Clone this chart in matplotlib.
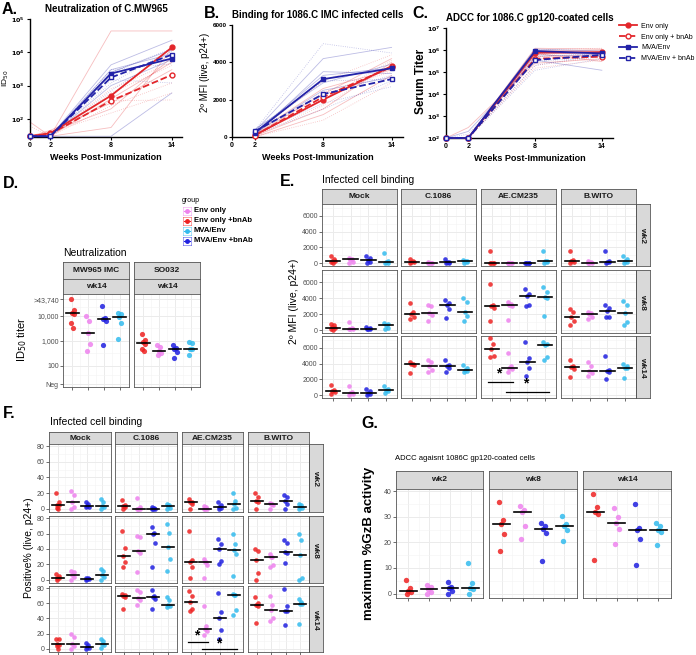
import numpy as np
import matplotlib
matplotlib.use('Agg')
import matplotlib.pyplot as plt
from matplotlib.lines import Line2D
from matplotlib.ticker import NullLocator, NullFormatter

plt.rcParams['font.family'] = ['Liberation Sans', 'DejaVu Sans']

W, H = 696, 655

# ---------------- data: panels A-C (weeks 0, 2, 8, 14) ----------------
weeks = [0, 2, 8, 14]
weeks_b = [2, 8, 14]

a_env = [30, 37, 500, 14000]
a_env_bnab = [30, 35, 350, 2100]
a_mva = [30, 30, 2300, 6500]
a_mva_bnab = [30, 30, 1750, 8500]
a_ind_env = [[30, 30, 43740, 43740], [30, 40, 200, 7000], [30, 30, 55, 13000],
             [80, 30, 400, 5000], [30, 45, 300, 3000]]
a_ind_env_bnab = [[30, 35, 350, 370], [30, 30, 250, 1200], [60, 30, 600, 4000],
                  [30, 40, 150, 600], [30, 30, 800, 5000]]
a_ind_mva = [[30, 30, 4200, 23000], [30, 30, 3000, 9000], [30, 30, 1000, 6000],
             [30, 30, 30, 600], [30, 30, 2500, 12000]]
a_ind_mva_bnab = [[30, 30, 2500, 13000], [30, 30, 1500, 1200], [30, 30, 700, 11000],
                  [30, 30, 1200, 12000], [30, 30, 3000, 4500]]

b_env = [100, 2000, 3800]
b_env_bnab = [80, 2150, 3750]
b_mva = [230, 3100, 3680]
b_mva_bnab = [300, 2300, 3100]
b_ind_env = [[100, 2000, 3800], [50, 1500, 4000], [200, 2600, 3600], [0, 1200, 3300], [150, 2300, 4200]]
b_ind_env_bnab = [[80, 2400, 3500], [20, 900, 2900], [150, 2000, 4100], [50, 1700, 3800], [200, 3000, 4400]]
b_ind_mva = [[300, 4200, 4800], [100, 3500, 3400], [400, 2900, 3900], [200, 2500, 3200], [250, 3300, 3700]]
b_ind_mva_bnab = [[350, 5000, 4500], [200, 1800, 2700], [300, 2300, 3300], [150, 1500, 3000], [400, 3000, 3100]]

c_env = [100, 100, 7.5e5, 8e5]
c_env_bnab = [100, 100, 4e5, 5e5]
c_mva = [100, 100, 9e5, 7e5]
c_mva_bnab = [100, 100, 3.5e5, 6e5]
c_ind_env = [[100, 100, 1.2e6, 1.1e6], [100, 100, 7e5, 3e5], [100, 300, 2.5e5, 4e5],
             [100, 100, 9e5, 1e6], [100, 100, 5e5, 6e5]]
c_ind_env_bnab = [[100, 100, 1e6, 1.2e6], [100, 100, 1.5e5, 3.5e5], [100, 100, 4e5, 6e5],
                  [100, 100, 2e5, 5e5], [100, 100, 6e5, 8e5]]
c_ind_mva = [[100, 100, 1.1e6, 9e5], [100, 200, 3.5e5, 1.2e5], [100, 100, 8e5, 6e5],
             [100, 100, 9e5, 7e5], [100, 100, 6e5, 5e5]]
c_ind_mva_bnab = [[100, 150, 3e5, 5e5], [100, 100, 1.2e5, 4e5], [100, 100, 5e5, 7e5],
                  [100, 100, 2e5, 6e5], [100, 100, 7e5, 8e5]]

line_labels = ['Env only', 'Env only + bnAb', 'MVA/Env', 'MVA/Env + bnAb']

# ---------------- data: panels D-G (groups in x order: red, violet, blue, cyan) ----------------
legend_groups = ['Env only', 'Env only +bnAb', 'MVA/Env', 'MVA/Env +bnAb']
antigens = ['Mock', 'C.1086', 'AE.CM235', 'B.WITO']
wk_rows = ['wk2', 'wk8', 'wk14']

d_mw965 = [[43740, 17000, 13000, 12000, 5000, 3200], [9500, 6000, 2000, 700, 400],
           [24500, 7800, 7000, 6300, 660], [13000, 12000, 8500, 5200, 1200]]
d_so032 = [[1900, 1100, 850, 700, 470, 400], [650, 550, 400, 320, 260],
           [640, 520, 470, 340, 210], [900, 800, 480, 470, 260]]

e_wk2 = [
    [[900, 600, 350, 300, 100, 0], [700, 550, 500, 100, 50], [950, 700, 400, 150, 0], [1300, 300, 150, 50, 0]],
    [[600, 300, 150, 100, 0], [100, 50, 50, 0, 0], [500, 200, 100, 50, 0], [400, 300, 250, 100, 0]],
    [[1600, 50, 0, 0, 0], [50, 20, 0, 0, 0], [50, 0, 0, 0, 0], [1600, 300, 250, 100, 0]],
    [[1600, 400, 300, 100, 0], [300, 200, 50, 0, 0], [1500, 300, 200, 100, 0], [900, 600, 300, 200, 0]],
]
e_wk8 = [
    [[800, 600, 350, 250, 100, 0], [1000, 300, 200, 150, 100], [350, 250, 200, 150, 100], [900, 800, 650, 300, 100]],
    [[3400, 2300, 2000, 1700, 1400], [3100, 3000, 2200, 1900, 1100], [3800, 3400, 3200, 2700, 1500], [4000, 3500, 2300, 1800, 1100]],
    [[5700, 3100, 3000, 2800, 1100], [3500, 3300, 3200, 3000, 1300], [5100, 4500, 4300, 3100, 3000], [5400, 4800, 4100, 4000, 1800]],
    [[2600, 2300, 1700, 1200, 600], [2300, 2100, 2000, 1600, 1400], [3100, 2800, 2400, 1700, 1600], [3700, 3100, 2200, 1000, 600]],
]
e_wk14 = [
    [[1300, 700, 500, 400, 200], [1200, 400, 350, 100, 0], [750, 500, 350, 200, 0], [1200, 800, 650, 600, 300]],
    [[4200, 4000, 3900, 3800, 2800], [4500, 4200, 3700, 3200, 2900], [4400, 3800, 3700, 3400, 2900], [3800, 3400, 3150, 3100, 3000]],
    [[7200, 6500, 5800, 5000, 4800], [5300, 3700, 3450, 3300, 3000], [6700, 4700, 4200, 3400, 2500], [6800, 6500, 6400, 4900, 4500]],
    [[4500, 3700, 3550, 3300, 2300], [4200, 3700, 3050, 2800, 2400], [5000, 3200, 3100, 2950, 2100], [3900, 3700, 3500, 3400, 2200]],
]
e_sig_pairs = [(1, 2), (2, 4)]
e_sig_levels = [1690, 380]

f_wk2 = [
    [[20, 8, 5, 4, 1, 0], [23, 17, 9, 2, 0], [8, 6, 3.5, 2, 2], [12, 9, 3.5, 2, 0]],
    [[11, 5, 3.5, 2, 0], [14, 2, 0, 0, 0], [2, 1, 0, 0, 0], [5.6, 4, 3.5, 1, 0]],
    [[12, 9, 8, 6, 0], [3.5, 2, 0, 0, 0], [8, 4, 1.7, 1, 0], [19.5, 9.5, 5.6, 1, 0]],
    [[19.5, 15, 10, 8.6, 0], [7, 6.5, 6, 5, 0], [18, 15, 10, 6, 0], [6.5, 4, 1.5, 1, 0]],
]
f_wk8 = [
    [[7, 5, 2, 1.7, 0], [11.7, 9.5, 6, 3, 0], [2, 1.7, 1, 0.5, 0], [13.8, 10.8, 6.5, 3, 0]],
    [[64, 41, 31, 22.5, 16], [57, 56, 37, 34.6, 9.5], [69, 61.4, 60, 48.4, 16], [73, 61.4, 43, 27, 10.8]],
    [[63.6, 26, 22.5, 16, 1.7], [26.8, 23, 22.5, 19, 1.7], [52.8, 46.3, 40.6, 23.8, 20.3], [59, 46, 38.5, 34, 4.3]],
    [[40.6, 36.8, 26, 8.2, 0], [33, 30, 29, 19.5, 17], [52, 48.4, 36.3, 35, 21.6], [59, 52, 32.4, 1.7, 0]],
]
f_wk14 = [
    [[13.3, 13, 6.5, 4.7, 3.4, 0], [19.4, 15.5, 5.6, 3.4, 0], [7.7, 4.3, 1.7, 1.3, 0], [13.3, 9.9, 5.6, 4.7, 1.3]],
    [[72, 71.4, 70, 68, 53], [78, 75, 67, 64, 58], [78, 70, 69, 66, 52], [69, 64, 58, 56, 55]],
    [[76.6, 70, 62.4, 52.9, 49.9], [57, 30, 25.8, 23.7, 18.5], [73.5, 48.6, 40, 25, 12.9], [72, 71.6, 71.4, 50.8, 44.3]],
    [[69, 60, 58.5, 56.3, 34.4], [70, 58, 51, 40, 36], [78.7, 55.9, 50, 49.9, 31.4], [65.8, 62.4, 59.4, 59, 32.7]],
]
f_sig_pairs = [(1, 2), (2, 4)]
f_sig_levels = [9.5, 0]

g_weeks = ['wk2', 'wk8', 'wk14']
g_wk2 = [[5.5, 2.2, 0.9, 0.5, 0], [3.3, 2.5, 1.7, 0.6, 0], [4.6, 2.5, 2.2, 1, 0], [12, 4.3, 2.2, 2, 0]]
g_wk8 = [[35.6, 28.8, 27.2, 23.2, 16.5], [34.3, 32.6, 31.7, 26.3, 21.2], [27.4, 26.4, 25.1, 23.7, 12.8], [30.4, 27.1, 26.3, 24.8, 20.6]]
g_wk14 = [[38.8, 33.9, 31.9, 30.9, 13.3], [33.2, 29.7, 27.6, 25.1, 19.4], [34.9, 25.7, 25, 21.2, 11.1], [27.4, 26.3, 25, 24.1, 18.9]]

# ---------------- styles ----------------
RED = '#E3262B'
BLUE = '#2222A8'
pt_colors = ['#EE2222', '#EE82EE', '#2020E0', '#33BBEE']
legend_colors = ['#EE82EE', '#EE2222', '#33BBEE', '#2020E0']
jitter = [-0.11, 0.07, -0.04, 0.11, -0.08, 0.03]

fig = plt.figure(figsize=(W / 100, H / 100), dpi=100)


def px_axes(l, t, r, b):
    return fig.add_axes([l / W, 1 - b / H, (r - l) / W, (b - t) / H])


def ftext(x, y, s, **kw):
    fig.text(x / W, 1 - y / H, s, **kw)


# ---------- A-C line panels ----------
styles = [(RED, '-', 'o', RED), (RED, '--', 'o', 'white'),
          (BLUE, '-', 's', BLUE), (BLUE, '--', 's', 'white')]


def line_panel(box, x, means, indivs, log, ylim, yticks, yticklabels, title):
    ax = px_axes(*box)
    if log:
        ax.set_yscale('log')
    for ind, (c, ls, m, mfc) in zip(indivs, styles):
        for row in ind:
            ax.plot(x, row, color=c, ls=':' if ls == '--' else '-', lw=0.6, alpha=0.3, clip_on=False)
    for mean, (c, ls, m, mfc) in zip(means, styles):
        ax.plot(x, mean, color=c, ls=ls, lw=1.3, marker=m, ms=3.5, mfc=mfc, mec=c, mew=1.0,
                clip_on=False, zorder=5)
    ax.set_xlim(0, 15)
    ax.set_ylim(*ylim)
    ax.set_xticks([0, 2, 8, 14])
    ax.set_xticklabels(['0', '2', '8', '14'], fontweight='bold', fontsize=5)
    ax.yaxis.set_minor_locator(NullLocator())
    ax.yaxis.set_minor_formatter(NullFormatter())
    ax.set_yticks(yticks)
    ax.set_yticklabels(yticklabels, fontweight='bold', fontsize=4.6)
    ax.spines['top'].set_visible(False)
    ax.spines['right'].set_visible(False)
    for s in ('left', 'bottom'):
        ax.spines[s].set_linewidth(1.0)
    ax.tick_params(length=2.5, width=0.8, pad=1.2)
    ax.set_title(title, fontsize=7, fontweight='bold', pad=5)
    ax.set_xlabel('Weeks Post-Immunization', fontsize=6.5, fontweight='bold', labelpad=3)
    return ax


line_panel((30, 19, 182, 137), weeks, [a_env, a_env_bnab, a_mva, a_mva_bnab],
           [a_ind_env, a_ind_env_bnab, a_ind_mva, a_ind_mva_bnab], True, (28.5, 1e5),
           [1e2, 1e3, 1e4, 1e5], [r'$\mathbf{10^{%d}}$' % k for k in (2, 3, 4, 5)],
           'Neutralization of C.MW965')
line_panel((232, 25, 403, 137), weeks_b, [b_env, b_env_bnab, b_mva, b_mva_bnab],
           [b_ind_env, b_ind_env_bnab, b_ind_mva, b_ind_mva_bnab], False, (0, 6000),
           [0, 2000, 4000, 6000], ['0', '2000', '4000', '6000'],
           'Binding for 1086.C IMC infected cells')
line_panel((446, 28, 613, 138), weeks, [c_env, c_env_bnab, c_mva, c_mva_bnab],
           [c_ind_env, c_ind_env_bnab, c_ind_mva, c_ind_mva_bnab], True, (100, 1e7),
           [1e2, 1e3, 1e4, 1e5, 1e6, 1e7], [r'$\mathbf{10^{%d}}$' % k for k in range(2, 8)],
           'ADCC for 1086.C gp120-coated cells')
ftext(6, 78, r'ID$_{50}$', fontsize=6, rotation=90, ha='center', va='center')
ftext(205, 72, '2º MFI (live, p24+)', fontsize=7, rotation=90, ha='center', va='center')
ftext(421, 81, 'Serum Titer', fontsize=8.5, fontweight='bold', rotation=90, ha='center', va='center')

handles = [Line2D([], [], color=c, ls=ls, lw=1.3, marker=m, ms=3.5, mfc=mfc, mec=c) for c, ls, m, mfc in styles]
fig.legend(handles, line_labels, loc='upper left', bbox_to_anchor=(616 / W, 1 - 20 / H), frameon=False,
           fontsize=5, handlelength=2.6, labelspacing=0.55, handletextpad=0.6, borderaxespad=0)

for lab, x, y in [('A.', 2, 9), ('B.', 204, 14), ('C.', 412, 14), ('D.', 3, 183),
                  ('E.', 280, 182), ('F.', 3, 414), ('G.', 361, 423)]:
    ftext(x, y, lab, fontsize=11.5, fontweight='bold', va='center')


# ---------- ggplot-like facet panels ----------
def strip(l, t, r, b, text, rot=0):
    ax = px_axes(l, t, r, b)
    ax.set_facecolor('#D9D9D9')
    ax.set_xticks([])
    ax.set_yticks([])
    for s in ax.spines.values():
        s.set_color('#555555')
        s.set_linewidth(0.6)
    ax.text(0.5, 0.5, text, ha='center', va='center', rotation=rot, fontsize=6,
            fontweight='bold', color='#1A1A1A', transform=ax.transAxes)


def facet(box, groups, ylim, yticks, yticklabels, yminor, left, bottom, log=False, size=11):
    ax = px_axes(*box)
    if log:
        ax.set_yscale('log')
    ax.set_xlim(0.4, 4.6)
    ax.set_ylim(*ylim)
    ax.set_yticks(yticks)
    ax.set_yticks(yminor, minor=True)
    ax.yaxis.set_minor_formatter(NullFormatter())
    ax.set_xticks([1, 2, 3, 4])
    ax.set_xticks([1.5, 2.5, 3.5], minor=True)
    ax.grid(which='major', color='#EBEBEB', lw=0.7)
    ax.grid(which='minor', color='#F3F3F3', lw=0.4)
    ax.set_axisbelow(True)
    ax.tick_params(which='minor', length=0)
    ax.tick_params(which='major', length=2, width=0.5, color='#333333', labelsize=5,
                   labelcolor='#4D4D4D', pad=1)
    ax.set_xticklabels([])
    if left:
        ax.set_yticklabels(yticklabels)
    else:
        ax.set_yticklabels([])
        ax.tick_params(axis='y', which='major', length=0)
    if not bottom:
        ax.tick_params(axis='x', which='major', length=0)
    for s in ax.spines.values():
        s.set_color('#555555')
        s.set_linewidth(0.6)
    for i, (vals, col) in enumerate(zip(groups, pt_colors)):
        xs = i + 1 + np.array(jitter[:len(vals)])
        ax.scatter(xs, vals, s=size, color=col, alpha=0.85, lw=0, zorder=3, clip_on=False)
        med = np.median(vals)
        ax.plot([i + 0.6, i + 1.4], [med, med], color='black', lw=1.2, zorder=4)
    return ax


def sig(ax, pairs, levels, star_dy):
    for (ga, gb), lev in zip(pairs, levels):
        ax.plot([ga - 0.2, gb + 0.2], [lev, lev], color='black', lw=0.9, zorder=5, clip_on=False)
        ax.annotate('*', ((ga + gb) / 2 - 0.1, lev), xytext=(0, star_dy), textcoords='offset points',
                    ha='center', va='center', fontsize=10, fontweight='bold')


# D
ftext(63, 253, 'Neutralization', fontsize=7.5, va='center')
d_ticks = [18, 100, 1000, 10000, 43740]
d_labels = ['Neg', '100', '1,000', '10,000', '>43,740']
d_minor = [42, 316, 3162, 20900]
for k, (name, groups) in enumerate([('MW965 IMC', d_mw965), ('SO032', d_so032)]):
    l, r = [(63, 129), (134, 200)][k]
    strip(l, 262, r, 279, name)
    strip(l, 279, r, 294, 'wk14')
    facet((l, 294, r, 387), groups, (14.1, 72000), d_ticks, d_labels, d_minor,
          left=(k == 0), bottom=True, log=True, size=14)
ftext(22, 340, r'ID$_{50}$ titer', fontsize=8, rotation=90, ha='center', va='center')

# legend for D-G
ftext(182, 201, 'group', fontsize=5, va='center')
for k, (name, c) in enumerate(zip(legend_groups, legend_colors)):
    y = 210.5 + 10 * k
    ax_key = px_axes(183, y - 4, 191, y + 4)
    ax_key.set_xticks([])
    ax_key.set_yticks([])
    ax_key.set_xlim(0, 1)
    ax_key.set_ylim(0, 1)
    for s in ax_key.spines.values():
        s.set_color(c)
        s.set_linewidth(0.5)
        s.set_alpha(0.6)
    ax_key.plot([0.1, 0.9], [0.5, 0.5], color=c, lw=0.8)
    ax_key.plot([0.5], [0.5], marker='o', ms=2.5, color=c)
    ftext(194, y, name, fontsize=5.5, fontweight='bold', va='center')

# E
ftext(322, 180, 'Infected cell binding', fontsize=7.5, va='center')
e_cols = [(322, 397), (401, 476), (481, 556), (561, 636)]
e_rows = [(204, 266), (270, 333), (336, 398)]
e_data = [e_wk2, e_wk8, e_wk14]
for j, (l, r) in enumerate(e_cols):
    strip(l, 189, r, 204, antigens[j])
for i, (t, b) in enumerate(e_rows):
    strip(636, t, 650, b, wk_rows[i], rot=-90)
    for j, (l, r) in enumerate(e_cols):
        ax = facet((l, t, r, b), e_data[i][j], (-345, 7500), [0, 2000, 4000, 6000],
                   ['0', '2000', '4000', '6000'], [1000, 3000, 5000, 7000],
                   left=(j == 0), bottom=(i == 2), size=11)
        if i == 2 and antigens[j] == 'AE.CM235':
            sig(ax, e_sig_pairs, e_sig_levels, 6)
ftext(294, 301, '2º MFI (live, p24+)', fontsize=7.5, rotation=90, ha='center', va='center')

# F
ftext(50, 422, 'Infected cell binding', fontsize=7.5, va='center')
f_cols = [(49, 111), (115, 177), (182, 243), (248, 309)]
f_rows = [(444, 512), (516, 583), (586, 652)]
f_data = [f_wk2, f_wk8, f_wk14]
for j, (l, r) in enumerate(f_cols):
    strip(l, 432, r, 444, antigens[j])
for i, (t, b) in enumerate(f_rows):
    strip(309, t, 323, b, wk_rows[i], rot=-90)
    for j, (l, r) in enumerate(f_cols):
        ax = facet((l, t, r, b), f_data[i][j], (-4.4, 83), [0, 20, 40, 60, 80],
                   ['0', '20', '40', '60', '80'], [10, 30, 50, 70],
                   left=(j == 0), bottom=(i == 2), size=11)
        if i == 2 and antigens[j] == 'AE.CM235':
            sig(ax, f_sig_pairs, f_sig_levels, 4)
ftext(29, 548, 'Positive% (live, p24+)', fontsize=7.5, rotation=90, ha='center', va='center')

# G
ftext(395, 458, 'ADCC agaisnt 1086C gp120-coated cells', fontsize=5.5, va='center')
g_cols = [(396, 483), (489, 577), (583, 671)]
g_data = [g_wk2, g_wk8, g_wk14]
for j, (l, r) in enumerate(g_cols):
    strip(l, 471, r, 489, g_weeks[j])
    facet((l, 489, r, 598), g_data[j], (-1.7, 40.8), [0, 10, 20, 30, 40],
          ['0', '10', '20', '30', '40'], [5, 15, 25, 35], left=(j == 0), bottom=True, size=15)
ftext(369, 543, 'maximum %GzB activity', fontsize=9.5, fontweight='bold', rotation=90,
      ha='center', va='center')

fig.savefig('out.png', dpi=100)
